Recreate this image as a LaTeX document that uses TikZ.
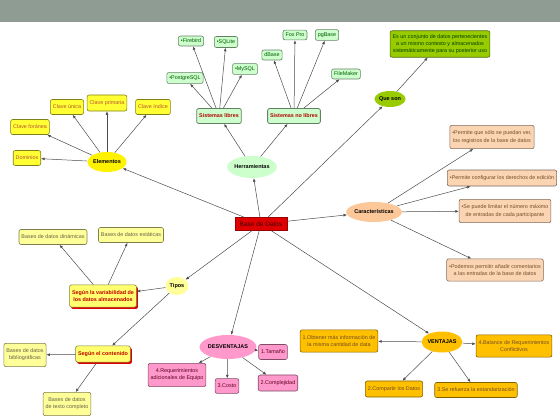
\documentclass[tikz,border=0pt]{standalone}
\usepackage{fontspec}
\setmainfont{Liberation Sans}
\usetikzlibrary{arrows.meta, positioning, shadows, shapes.geometric}
\definecolor{barcol}{HTML}{8F9C93}
\definecolor{cyel}{HTML}{FFFF33}
\definecolor{cpale}{HTML}{FFFF99}
\definecolor{cgreen}{HTML}{CCFFCC}
\definecolor{clime}{HTML}{99CC00}
\definecolor{corange}{HTML}{FBD4B4}
\definecolor{cpink}{HTML}{FF99CC}
\definecolor{cgold}{HTML}{FFC000}
\definecolor{cred}{HTML}{E00000}
\tikzset{
  box/.style={draw=#1!50!black, fill=#1, rounded corners=2pt, line width=0.6pt,
    inner xsep=2.5pt, inner ysep=5.5pt, align=center,
    font=\fontsize{5.4}{7.2}\selectfont},
  hub/.style={ellipse, fill=#1, inner sep=0pt, font=\bfseries\fontsize{5.5}{6}\selectfont},
  clave/.style={box=cyel, text=black!70!yellow!40!red},
  tool/.style={box=cgreen, inner ysep=3pt, text=green!35!black},
  sist/.style={box=cgreen, line width=0.8pt, inner ysep=5.5pt, text=red!70!black,
    font=\bfseries\fontsize{5.4}{6}\selectfont},
  carbox/.style={box=corange, text=brown!60!black},
  pinkbox/.style={box=cpink, text=purple!50!black},
  goldbox/.style={box=cgold, text=brown!60!black},
  tipo/.style={box=cpale, text=black!70!yellow},
  segun/.style={box=cyel!70!white, text=red!75!black, font=\bfseries\fontsize{5.4}{7.2}\selectfont,
    drop shadow={fill=red!85!black, opacity=1, shadow xshift=1.5pt, shadow yshift=-1.8pt}},
  arr/.style={-{Latex[length=3.5pt,width=2.8pt]}, draw=black!70, line width=0.5pt},
}
\begin{document}
\begin{tikzpicture}[x=1pt, y=-1pt]
  \useasboundingbox (0,0) rectangle (560,420);
  \fill[barcol] (0,0) rectangle (560,22);
  % centre
  \node[draw=red!60!black, fill=cred, text=red!25!black, minimum width=52pt, minimum height=13pt,
    inner sep=0pt, font=\fontsize{6.5}{7}\selectfont] (bd) at (261,224) {Base de Datos};
  % hubs
  \node[hub=yellow, minimum width=29pt, minimum height=20pt] (elem) at (107,162) {Elementos};
  \node[hub=cgreen, minimum width=38pt, minimum height=22pt] (herr) at (252,167) {Herramientas};
  \node[hub=clime, minimum width=27pt, minimum height=16pt] (que) at (390,99) {Que son};
  \node[hub=corange!85!orange, minimum width=44pt, minimum height=20pt] (carac) at (374,212) {Características};
  \node[hub=cpale, minimum width=23pt, minimum height=18pt] (tipos) at (177,286) {Tipos};
  \node[hub=cpink, minimum width=40pt, minimum height=24pt] (desv) at (228,347) {DESVENTAJAS};
  \node[hub=cgold, minimum width=32pt, minimum height=21pt] (vent) at (442,342) {VENTAJAS};
  % elementos
  \node[clave] (dom) at (27,158) {Dominios};
  \node[clave] (fora) at (30,127) {Clave foránea};
  \node[clave] (unica) at (67,107) {Clave única};
  \node[clave] (prim) at (107,103) {Clave primaria};
  \node[clave] (indice) at (153,107) {Clave índice};
  % herramientas
  \node[sist] (slib) at (219,116) {Sistemas libres};
  \node[sist] (snolib) at (294,116) {Sistemas no libres};
  \node[tool] (pgsql) at (185,78) {•PostgreSQL};
  \node[tool] (fbird) at (191,41) {•Firebird};
  \node[tool] (sqlite) at (226,42) {•SQLite};
  \node[tool] (mysql) at (245,69) {•MySQL};
  \node[tool] (dbase) at (272,55) {dBase};
  \node[tool] (fox) at (295,35) {Fox Pro};
  \node[tool] (pgb) at (327,35) {pgBase};
  \node[tool] (fmk) at (346,74) {FileMaker};
  % que son
  \node[box=clime, text=green!25!black, inner ysep=3.5pt] (defin) at (440,44)
    {Es un conjunto de datos pertenecientes\\a un mismo contexto y almacenados\\sistemáticamente para su posterior uso};
  % caracteristicas
  \node[carbox] (c1) at (492,137) {•Permite que sólo se puedan ver,\\los registros de la base de datos};
  \node[carbox] (c2) at (502,178) {•Permite configurar los derechos de edición};
  \node[carbox] (c3) at (505,211) {•Se puede limitar el número máximo\\de entradas de cada participante};
  \node[carbox] (c4) at (495,270) {•Podemos permitir añadir comentarios\\a las entradas de la base de datos};
  % tipos
  \node[segun] (var) at (103,296) {Según la variabilidad de\\los datos almacenados};
  \node[segun] (cont) at (103,354) {Según el contenido};
  \node[tipo] (din) at (53,237) {Bases de datos dinámicas};
  \node[tipo] (esta) at (131,235) {Bases de datos estáticas};
  \node[tipo] (bib) at (25,355) {Bases de datos\\bibliográficas};
  \node[tipo] (txt) at (67,404) {Bases de datos\\de texto completo};
  % desventajas
  \node[pinkbox] (tam) at (273,352) {1.Tamaño};
  \node[pinkbox] (req) at (177,375) {4.Requerimientos\\adicionales de Equipo};
  \node[pinkbox] (cost) at (227,386) {3.Costo};
  \node[pinkbox] (compl) at (278,383) {2.Complejidad};
  % ventajas
  \node[goldbox] (obt) at (339,341) {1.Obtener más información de\\la misma cantidad de data};
  \node[goldbox] (bal) at (514,346) {4.Balance de Requerimientos\\Conflictivos};
  \node[goldbox] (comp) at (394,389) {2.Compartir los Datos};
  \node[goldbox] (estd) at (476,390) {3.Se refuerza la estandarización};
  % connectors
  \foreach \t in {elem, herr, que, carac, tipos, desv, vent}
    \draw[arr] (bd) -- (\t);
  \foreach \t in {dom, fora, unica, prim, indice}
    \draw[arr] (elem) -- (\t);
  \foreach \t in {slib, snolib}
    \draw[arr] (herr) -- (\t);
  \foreach \t in {pgsql, fbird, sqlite, mysql}
    \draw[arr] (slib) -- (\t);
  \foreach \t in {dbase, fox, pgb, fmk}
    \draw[arr] (snolib) -- (\t);
  \draw[arr] (que) -- (defin);
  \foreach \t in {c1, c2, c3, c4}
    \draw[arr] (carac) -- (\t);
  \foreach \t in {var, cont}
    \draw[arr] (tipos) -- (\t);
  \foreach \t in {din, esta}
    \draw[arr] (var) -- (\t);
  \foreach \t in {bib, txt}
    \draw[arr] (cont) -- (\t);
  \foreach \t in {tam, req, cost, compl}
    \draw[arr] (desv) -- (\t);
  \foreach \t in {obt, bal, comp, estd}
    \draw[arr] (vent) -- (\t);
\end{tikzpicture}
\end{document}
